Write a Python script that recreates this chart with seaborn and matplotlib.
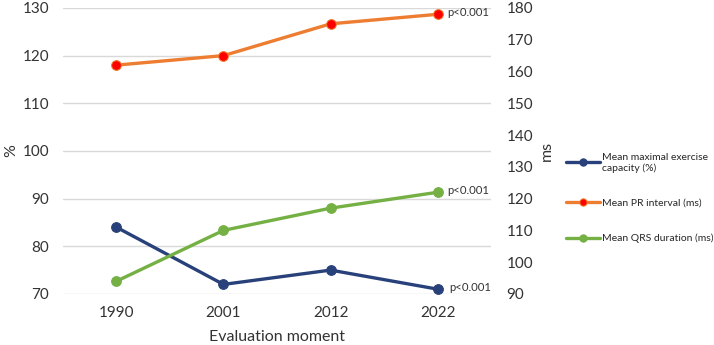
import pandas as pd
import seaborn as sns
import matplotlib.pyplot as plt

# values
years = ["1990", "2001", "2012", "2022"]
exercise_capacity = [84, 72, 75, 71]      # % (left axis)
pr_interval = [162, 165, 175, 178]        # ms (right axis)
qrs_duration = [94, 110, 117, 122]        # ms (right axis)
p_labels = ["p<0.001", "p<0.001", "p<0.001"]

blue = "#29417A"
orange = "#ED7D31"
green = "#74B043"

df = pd.DataFrame({"year": years, "ex": exercise_capacity,
                   "pr": pr_interval, "qrs": qrs_duration})

sns.set_style("white")
plt.rcParams["font.family"] = ["Lato", "DejaVu Sans"]

fig = plt.figure(figsize=(7.14, 3.45), dpi=100)
ax = fig.add_axes([0.088, 0.148, 0.6, 0.829])
ax2 = ax.twinx()

sns.lineplot(data=df, x="year", y="ex", ax=ax, color=blue, lw=2.4, marker="o",
             markersize=7, markeredgecolor=blue, sort=False,
             label="Mean maximal exercise\ncapacity (%)", legend=False)
sns.lineplot(data=df, x="year", y="pr", ax=ax2, color=orange, lw=2.4, marker="o",
             markersize=7, markerfacecolor="#FF0000", markeredgecolor=orange,
             sort=False, label="Mean PR interval (ms)", legend=False)
sns.lineplot(data=df, x="year", y="qrs", ax=ax2, color=green, lw=2.4, marker="o",
             markersize=7, markeredgecolor=green, sort=False,
             label="Mean QRS duration (ms)", legend=False)

# p-value notes next to the last points
ax2.annotate(p_labels[0], (3, pr_interval[-1]), xytext=(7, 1), textcoords="offset points",
             va="center", fontsize=8.2, color="#333333")
ax2.annotate(p_labels[1], (3, qrs_duration[-1]), xytext=(7, 1), textcoords="offset points",
             va="center", fontsize=8.2, color="#333333")
ax.annotate(p_labels[2], (3, exercise_capacity[-1]), xytext=(8, 1), textcoords="offset points",
            va="center", fontsize=8.2, color="#333333")

ax.set_xlim(-0.5, 3.5)
ax.set_ylim(70, 130)
ax.set_yticks(range(70, 131, 10))
ax2.set_ylim(90, 180)
ax2.set_yticks(range(90, 181, 10))

ax.yaxis.grid(True, color="#D9D9D9", lw=1)
ax.set_axisbelow(True)
for a in (ax, ax2):
    for s in a.spines.values():
        s.set_visible(False)
    a.tick_params(length=0, labelsize=11, colors="#333333")
ax.tick_params(axis="y", pad=10)
ax2.tick_params(axis="y", pad=11)
ax.tick_params(axis="x", pad=9)

ax.set_xlabel("Evaluation moment", fontsize=11.5, color="#333333", labelpad=7)
ax.set_ylabel("%", fontsize=11.5, color="#333333", labelpad=3)
ax2.set_ylabel("ms", fontsize=11.5, color="#333333", labelpad=5)

h1, l1 = ax.get_legend_handles_labels()
h2, l2 = ax2.get_legend_handles_labels()
fig.legend(h1 + h2, l1 + l2, loc="upper left", bbox_to_anchor=(0.787, 0.57),
           frameon=False, fontsize=7.5, handlelength=3.3, handletextpad=0.1,
           labelspacing=2.5, borderaxespad=0, markerscale=0.75)

fig.savefig("out.png", dpi=100)
